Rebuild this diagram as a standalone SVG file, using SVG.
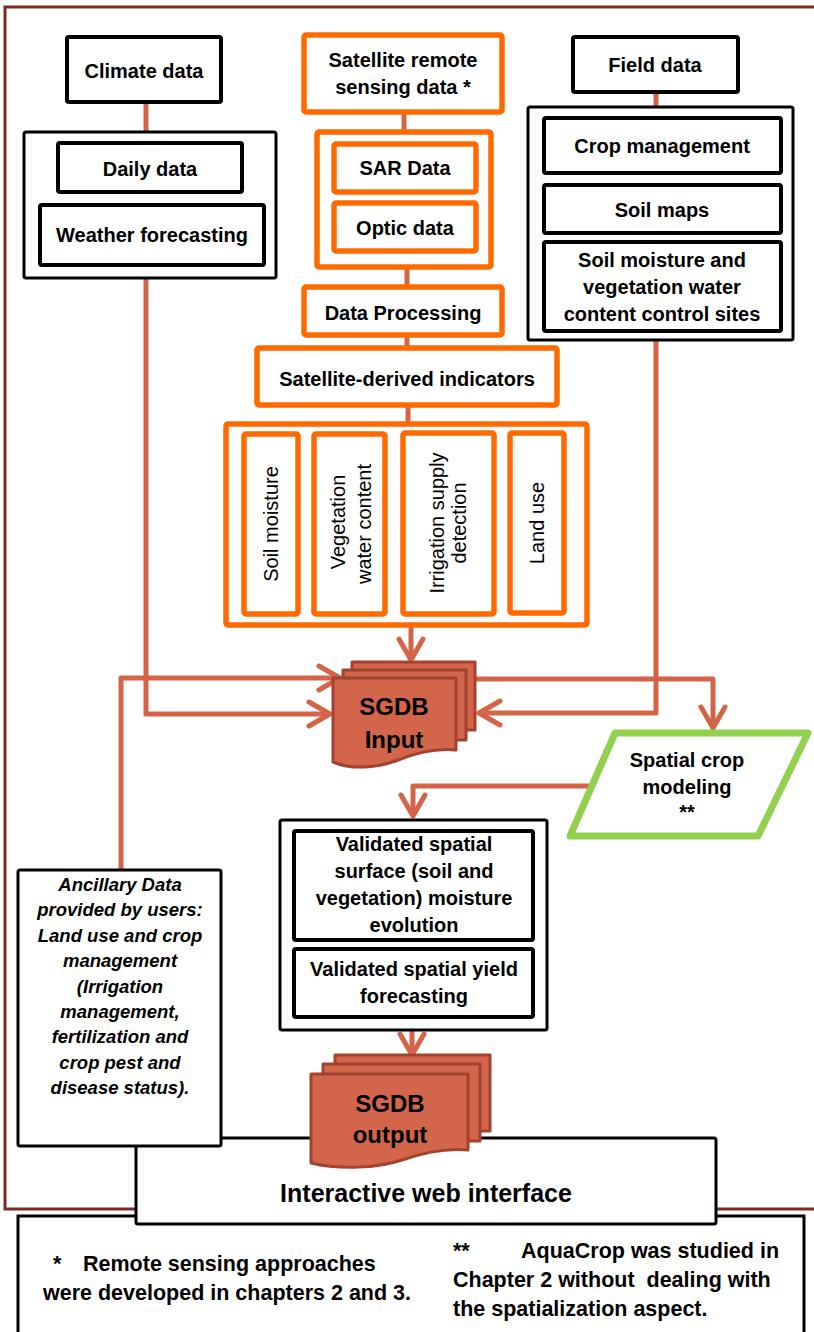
<svg xmlns="http://www.w3.org/2000/svg" width="814" height="1332" viewBox="0 0 814 1332">
<style>
text{font-family:"Liberation Sans",Arial,sans-serif;fill:#000}
.b{font-weight:bold;font-size:20px;text-anchor:middle}
.r{font-size:20px;text-anchor:middle}
.ai{font-weight:bold;font-style:italic;font-size:18.5px;text-anchor:middle}
.n{font-weight:bold;font-size:21.5px}
.bk{fill:#fff;stroke:#000;stroke-width:4}
.bt{fill:#fff;stroke:#000;stroke-width:3}
.or{fill:#fff;stroke:#FF6A00;stroke-width:5.5}
.con{fill:none;stroke:#D46447;stroke-width:5;stroke-linejoin:round}
.doc{fill:#D2654A;stroke:#A2432F;stroke-width:3;stroke-linejoin:round}
</style>
<defs>
<marker id="arr" markerUnits="userSpaceOnUse" markerWidth="50" markerHeight="50" viewBox="-30 -25 50 50" refX="0" refY="0" orient="auto" overflow="visible">
<path d="M-21,-12 L0,0 L-21,12" fill="none" stroke="#D46447" stroke-width="5" stroke-linecap="round" stroke-linejoin="round"/>
</marker>
</defs>
<path id="frame" d="M816,7 H5 V1209 H816" fill="none" stroke="#7B2C1E" stroke-width="3"/>
<g id="connectors">
<path class="con" d="M146,103 V132"/>
<path class="con" d="M146,278 V714 H330" marker-end="url(#arr)"/>
<path class="con" d="M121,870 V678 H340" marker-end="url(#arr)"/>
<path class="con" d="M656,92 V107"/>
<path class="con" d="M656,340 V713 H479" marker-end="url(#arr)"/>
<path class="con" d="M404,112 V132"/>
<path class="con" d="M407,267 V286"/>
<path class="con" d="M407,335 V347"/>
<path class="con" d="M408,405 V423"/>
<path class="con" d="M411,625 V660" marker-end="url(#arr)"/>
<path class="con" d="M470,679 H713 V728" marker-end="url(#arr)"/>
<path class="con" d="M592,786 H413 V816" marker-end="url(#arr)"/>
<path class="con" d="M412,1030 V1055" marker-end="url(#arr)"/>
</g>
<g id="climate">
<rect class="bk" x="67" y="37" width="154" height="65" rx="2"/>
<text class="b" x="144" y="78">Climate data</text>
</g>
<g id="climate-group">
<rect class="bt" x="24" y="132" width="252" height="146" rx="2"/>
<rect class="bk" x="58" y="143" width="184" height="49" rx="2"/>
<text class="b" x="150" y="176">Daily data</text>
<rect class="bk" x="40" y="205" width="224" height="60" rx="2"/>
<text class="b" x="152" y="242">Weather forecasting</text>
</g>
<g id="satellite">
<rect class="or" x="304" y="35" width="198" height="77" rx="2"/>
<text class="b" x="403" y="67">Satellite remote</text>
<text class="b" x="403" y="94">sensing data *</text>
</g>
<g id="satellite-group">
<rect class="or" x="317" y="132" width="174" height="135" rx="2"/>
<rect class="or" x="334" y="144" width="142" height="48" rx="2"/>
<text class="b" x="405" y="175">SAR Data</text>
<rect class="or" x="334" y="203" width="142" height="48" rx="2"/>
<text class="b" x="405" y="235">Optic data</text>
</g>
<g id="processing">
<rect class="or" x="304" y="287" width="198" height="48" rx="2"/>
<text class="b" x="403" y="320">Data Processing</text>
</g>
<g id="indicators">
<rect class="or" x="257" y="348" width="300" height="57" rx="2"/>
<text class="b" x="407" y="386">Satellite-derived indicators</text>
</g>
<g id="indicator-group">
<rect class="or" x="226" y="424" width="361" height="201" rx="2"/>
<rect class="or" x="244" y="434" width="54" height="180" rx="2"/>
<text class="r" transform="translate(271,524) rotate(-90)" dy="0.35em">Soil moisture</text>
<rect class="or" x="314" y="434" width="71" height="180" rx="2"/>
<text class="r" transform="translate(338,522) rotate(-90)" dy="0.35em">Vegetation</text>
<text class="r" transform="translate(364,524) rotate(-90)" dy="0.35em">water content</text>
<rect class="or" x="403" y="433" width="91" height="181" rx="2"/>
<text class="r" transform="translate(437,523) rotate(-90)" dy="0.35em">Irrigation supply</text>
<text class="r" transform="translate(459,523) rotate(-90)" dy="0.35em">detection</text>
<rect class="or" x="510" y="433" width="54" height="180" rx="2"/>
<text class="r" transform="translate(537,523) rotate(-90)" dy="0.35em">Land use</text>
</g>
<g id="field">
<rect class="bk" x="573" y="37" width="165" height="55" rx="2"/>
<text class="b" x="655" y="72">Field data</text>
</g>
<g id="field-group">
<rect class="bt" x="528" y="107" width="265" height="233" rx="2"/>
<rect class="bk" x="544" y="118" width="237" height="55" rx="2"/>
<text class="b" x="662" y="153">Crop management</text>
<rect class="bk" x="544" y="185" width="237" height="48" rx="2"/>
<text class="b" x="662" y="217">Soil maps</text>
<rect class="bk" x="544" y="242" width="237" height="89" rx="2"/>
<text class="b" x="662" y="267">Soil moisture and</text>
<text class="b" x="662" y="294">vegetation water</text>
<text class="b" x="662" y="321">content control sites</text>
</g>
<g id="sgdb-input">
<rect class="doc" x="352" y="662" width="123" height="68"/>
<rect class="doc" x="343" y="670" width="123" height="70"/>
<path class="doc" d="M333,678 H456 V750 C438,748 418,752 398,760 C378,768 352,770 333,762 Z"/>
<text class="b" x="394" y="715" style="font-size:24px">SGDB</text>
<text class="b" x="394" y="748" style="font-size:24px">Input</text>
</g>
<g id="spatial-crop">
<polygon points="615,733 808,733 758,836 570,836" fill="#fff" stroke="#92D050" stroke-width="7" stroke-linejoin="round"/>
<text class="b" x="687" y="767">Spatial crop</text>
<text class="b" x="687" y="794">modeling</text>
<text class="b" x="687" y="819">**</text>
</g>
<g id="validated">
<rect class="bt" x="280" y="820" width="267" height="210" rx="2"/>
<rect class="bk" x="294" y="831" width="239" height="109" rx="2"/>
<text class="b" x="414" y="851">Validated spatial</text>
<text class="b" x="414" y="878">surface (soil and</text>
<text class="b" x="414" y="905">vegetation) moisture</text>
<text class="b" x="414" y="932">evolution</text>
<rect class="bk" x="294" y="949" width="239" height="68" rx="2"/>
<text class="b" x="414" y="976">Validated spatial yield</text>
<text class="b" x="414" y="1003">forecasting</text>
</g>
<g id="notes">
<rect class="bt" x="18" y="1216" width="786" height="130"/>
<text class="n" x="53" y="1271">*</text>
<text class="n" x="83" y="1271">Remote sensing approaches</text>
<text class="n" x="43" y="1300">were developed in chapters 2 and 3.</text>
<text class="n" x="453" y="1258">**</text>
<text class="n" x="521" y="1258">AquaCrop was studied in</text>
<text class="n" x="453" y="1287" xml:space="preserve">Chapter 2 without  dealing with</text>
<text class="n" x="453" y="1316">the spatialization aspect.</text>
</g>
<g id="web-interface">
<rect class="bt" x="136" y="1138" width="580" height="86" rx="2"/>
<text class="b" x="426" y="1202" style="font-size:25px">Interactive web interface</text>
</g>
<g id="sgdb-output">
<rect class="doc" x="335" y="1055" width="155" height="76"/>
<rect class="doc" x="323" y="1064" width="157" height="77"/>
<path class="doc" d="M311,1074 H468 V1150 C448,1148 425,1152 402,1160 C378,1168 340,1170 311,1163 Z"/>
<text class="b" x="390" y="1112" style="font-size:24px">SGDB</text>
<text class="b" x="390" y="1143" style="font-size:24px">output</text>
</g>
<g id="ancillary">
<rect class="bt" x="18" y="870" width="203" height="276" rx="2"/>
<text class="ai" x="120" y="891">Ancillary Data</text>
<text class="ai" x="120" y="916">provided by users:</text>
<text class="ai" x="120" y="942">Land use and crop</text>
<text class="ai" x="120" y="967">management</text>
<text class="ai" x="120" y="993">(Irrigation</text>
<text class="ai" x="120" y="1018">management,</text>
<text class="ai" x="120" y="1043">fertilization and</text>
<text class="ai" x="120" y="1069">crop pest and</text>
<text class="ai" x="120" y="1094">disease status).</text>
</g>
</svg>
